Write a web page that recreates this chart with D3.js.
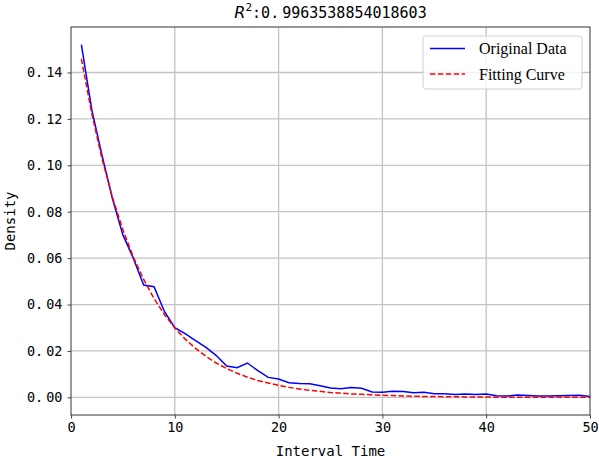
<!DOCTYPE html>
<html>
<head>
<meta charset="utf-8">
<script src="https://cdn.jsdelivr.net/npm/d3@7"></script>
<style>
  html, body { margin: 0; padding: 0; background: #fff; }
  svg { display: block; }
</style>
</head>
<body>
<div id="chart"></div>
<script>
// interval time (x) for both series
const intervals = [1,2,3,4,5,6,7,8,9,10,11,12,13,14,15,16,17,18,19,20,
  21,22,23,24,25,26,27,28,29,30,31,32,33,34,35,36,37,38,39,40,
  41,42,43,44,45,46,47,48,49,50];

const originalData = [0.152,0.124,0.104,0.0855,0.070,0.060,0.0484,0.0477,0.037,0.030,
  0.0275,0.0245,0.0215,0.018,0.0135,0.0128,0.0148,0.0115,0.0086,0.0079,
  0.0063,0.0060,0.0059,0.0050,0.0040,0.0037,0.0043,0.0039,0.0023,0.0022,
  0.0026,0.0025,0.0020,0.0022,0.0016,0.0016,0.0012,0.0014,0.0012,0.0014,
  0.0007,0.0006,0.0010,0.0008,0.0006,0.0006,0.0007,0.0008,0.0009,0.0004];

// fitted curve values
const fittingCurve = [0.1459,0.1224,0.1026,0.0861,0.0722,0.0605,0.0508,0.0426,0.0357,0.0299,
  0.0251,0.0211,0.0177,0.0148,0.0124,0.0104,0.0087,0.0073,0.0062,0.0052,
  0.0043,0.0036,0.0030,0.0026,0.0021,0.0018,0.0015,0.0013,0.0011,0.0009,
  0.0008,0.0006,0.0005,0.0004,0.0004,0.0003,0.0003,0.0002,0.0002,0.0002,
  0.0001,0.0001,0.0001,0.0001,0.0001,0.0000,0.0000,0.0000,0.0000,0.0000];

const xTicks = [0, 10, 20, 30, 40, 50];
const yTicks = [0, 0.02, 0.04, 0.06, 0.08, 0.10, 0.12, 0.14];
const titleValue = '0.9963538854018603';
const legendLabels = ['Original Data', 'Fitting Curve'];

const W = 599, H = 464;
const margin = { top: 27, right: 9, bottom: 49, left: 71 };
const monoFont = "'DejaVu Sans Mono', monospace";

const svg = d3.select('#chart').append('svg')
  .attr('width', W).attr('height', H);

const x = d3.scaleLinear().domain([0, 50]).range([margin.left, W - margin.right]);
const y = d3.scaleLinear().domain([-0.0076, 0.1596]).range([H - margin.bottom, margin.top]);

// grid
svg.append('g').selectAll('line.vx')
  .data(xTicks.slice(1, -1)).join('line')
  .attr('x1', d => x(d)).attr('x2', d => x(d))
  .attr('y1', margin.top).attr('y2', H - margin.bottom)
  .attr('stroke', '#c4c4c4').attr('stroke-width', 1.3);
svg.append('g').selectAll('line.hy')
  .data(yTicks).join('line')
  .attr('x1', margin.left).attr('x2', W - margin.right)
  .attr('y1', d => y(d)).attr('y2', d => y(d))
  .attr('stroke', '#c4c4c4').attr('stroke-width', 1.3);

// series
const line = d3.line().x((d, i) => x(intervals[i])).y(d => y(d));
svg.append('path').datum(originalData)
  .attr('d', line).attr('fill', 'none')
  .attr('stroke', '#0000ff').attr('stroke-width', 1.5);
svg.append('path').datum(fittingCurve)
  .attr('d', line).attr('fill', 'none')
  .attr('stroke', '#ff0000').attr('stroke-width', 1.5)
  .attr('stroke-dasharray', '5.5,2.4');

// axes
const fmt = d3.format('.2f');
const xAxis = svg.append('g')
  .attr('transform', `translate(0,${H - margin.bottom})`)
  .call(d3.axisBottom(x).tickValues(xTicks).tickSize(3.5).tickPadding(4));
const yAxis = svg.append('g')
  .attr('transform', `translate(${margin.left},0)`)
  .call(d3.axisLeft(y).tickValues(yTicks).tickSize(3.5).tickPadding(5).tickFormat(fmt));

[xAxis, yAxis].forEach(a => {
  a.select('.domain').remove();
  a.selectAll('.tick line').attr('stroke', '#333').attr('stroke-width', 0.9);
  a.selectAll('.tick text').attr('fill', '#000')
    .style('font-family', monoFont).style('font-size', '13.5px');
});

// split "0.14" so the dot keeps a gap like the original font
yAxis.selectAll('.tick text').each(function(d) {
  const s = fmt(d).split('.');
  const t = d3.select(this).text(null);
  t.append('tspan').text(s[0] + '.');
  t.append('tspan').attr('dx', 3).text(s[1]);
});

// frame
svg.append('rect')
  .attr('x', margin.left).attr('y', margin.top)
  .attr('width', W - margin.left - margin.right)
  .attr('height', H - margin.top - margin.bottom)
  .attr('fill', 'none').attr('stroke', '#333').attr('stroke-width', 1);

// title
const title = svg.append('text')
  .attr('x', (margin.left + W - margin.right) / 2).attr('y', 18)
  .attr('text-anchor', 'middle')
  .style('font-family', monoFont).style('font-size', '15px');
title.append('tspan').style('font-family', "'DejaVu Sans'").style('font-style', 'italic')
  .style('font-size', '16px').text('R');
title.append('tspan').attr('dy', -7).style('font-size', '11px').text('2');
title.append('tspan').attr('dy', 7).text(':' + titleValue.split('.')[0] + '.');
title.append('tspan').attr('dx', 3).text(titleValue.split('.')[1]);

// axis labels
svg.append('text')
  .attr('x', (margin.left + W - margin.right) / 2).attr('y', 456)
  .attr('text-anchor', 'middle')
  .style('font-family', monoFont).style('font-size', '14px')
  .text('Interval Time');
svg.append('text')
  .attr('transform', `translate(15,${(margin.top + H - margin.bottom) / 2}) rotate(-90)`)
  .attr('text-anchor', 'middle')
  .style('font-family', monoFont).style('font-size', '14px')
  .text('Density');

// legend
const legend = svg.append('g').attr('transform', 'translate(423,36)');
legend.append('rect')
  .attr('width', 159).attr('height', 53).attr('rx', 3)
  .attr('fill', 'rgba(255,255,255,0.8)')
  .attr('stroke', '#d0d0d0').attr('stroke-width', 1);
const legendStyles = [
  { color: '#0000ff', dash: null },
  { color: '#ff0000', dash: '5.5,2.4' }
];
legendLabels.forEach((lab, i) => {
  const g = legend.append('g').attr('transform', `translate(0,${12.5 + i * 25.5})`);
  g.append('line').attr('x1', 7).attr('x2', 42)
    .attr('stroke', legendStyles[i].color).attr('stroke-width', 1.5)
    .attr('stroke-dasharray', legendStyles[i].dash);
  g.append('text').attr('x', 56).attr('y', 5.5)
    .style('font-family', "'Liberation Serif', serif").style('font-size', '16px')
    .text(lab);
});
</script>
</body>
</html>
